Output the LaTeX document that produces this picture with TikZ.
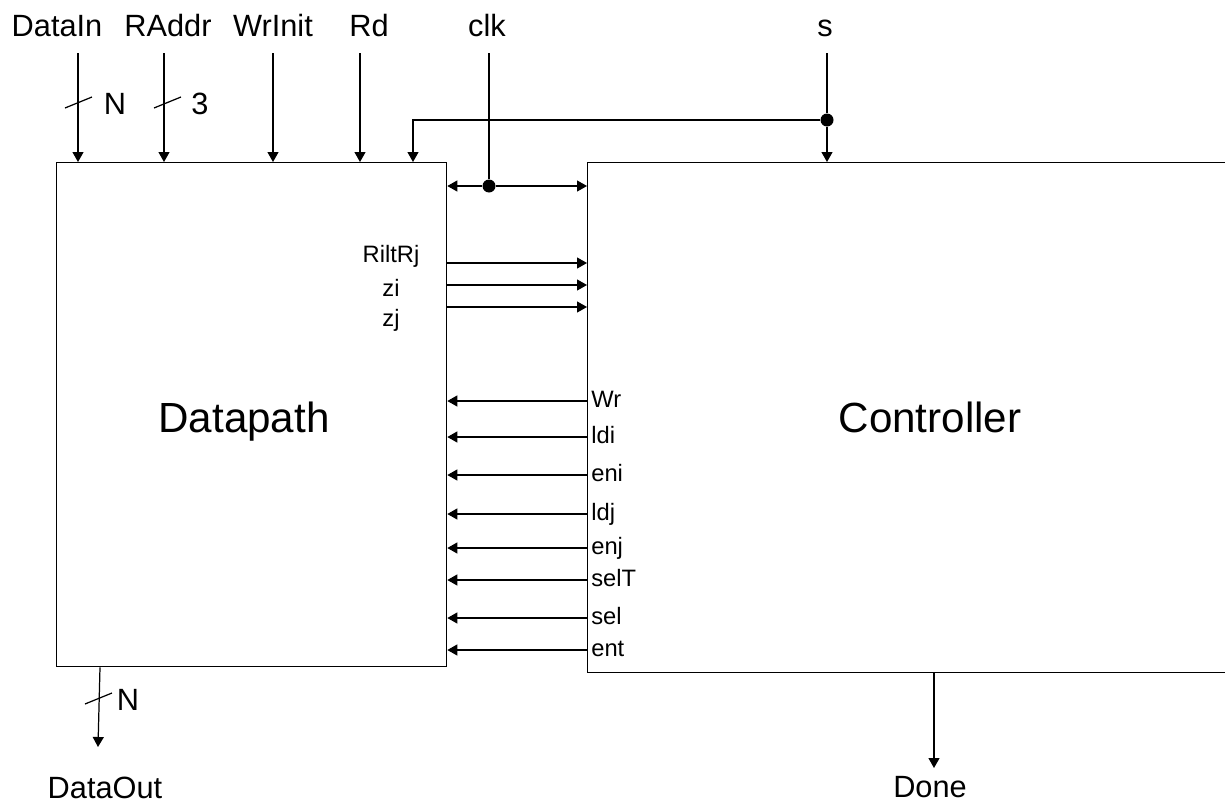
\documentclass[tikz,border=0pt]{standalone}
\usepackage{fontspec}
\setmainfont{Liberation Sans}
\usetikzlibrary{arrows.meta,positioning}

\begin{document}
\begin{tikzpicture}[x=0.02cm,y=-0.02cm,
    wire/.style={line width=0.7pt,-{Triangle[length=0.2cm,width=0.22cm]}},
    plain/.style={line width=0.7pt},
    blk/.style={draw,line width=0.8pt,inner sep=0pt,anchor=north west},
    pin/.style={font=\fontsize{17.5}{21}\selectfont,anchor=base},
    sigl/.style={font=\fontsize{13.5}{16}\selectfont,inner sep=0pt},
    big/.style={font=\fontsize{24}{28}\selectfont,anchor=base},
    dot/.style={circle,fill,inner sep=0pt,minimum size=0.26cm}]
  \useasboundingbox (0,0) rectangle (1225,805);
  \clip (0,0) rectangle (1225,805);

  % datapath block
  \node[blk,minimum width=7.8cm,minimum height=10.08cm] (dp) at (56,162) {};
  \node[big] (dplab) at (244,432) {Datapath};

  % controller block (runs off the right edge)
  \node[blk,minimum width=13.06cm,minimum height=10.2cm] (ctl) at (587,162) {};
  \node[big] (ctllab) at (930,432) {Controller};

  % top inputs
  \foreach \lx/\px/\lab in {57/78/DataIn,168/164/RAddr,273/273/WrInit,369/360/Rd}{
    \node[pin] (l\lab) at (\lx,36) {\lab};
    \coordinate (t\lab) at (\px,53);
    \draw[wire] (t\lab) -- (t\lab |- dp.north);
  }

  % bus widths
  \draw[plain] (65,108) -- (92,97);
  \node[pin,anchor=center] (wDataIn) at (115,104) {N};
  \draw[plain] (154,108) -- (181,97);
  \node[pin,anchor=center] (wRAddr) at (200,104) {3};

  % clock
  \node[pin] (lclk) at (487,36) {clk};
  \coordinate (tclk) at (489,53);
  \node[dot] (cj) at (489,186) {};
  \draw[plain] (tclk) -- (cj);
  \draw[wire] (cj) -- (cj -| dp.east);
  \draw[wire] (cj) -- (cj -| ctl.west);

  % start
  \node[pin] (ls) at (825,36) {s};
  \coordinate (ts) at (827,53);
  \node[dot] (sj) at (827,120) {};
  \coordinate (dps) at (413,162);
  \draw[plain] (ts) -- (sj);
  \draw[wire] (sj) -- (sj |- ctl.north);
  \draw[wire] (sj) -| (dps);

  % status to controller
  \foreach \y in {263,285,307}
    \draw[wire] (dp.east |- 0,\y) -- (ctl.west |- 0,\y);
  \node[sigl,anchor=base] (sRiltRj) at (391,262) {RiltRj};
  \node[sigl,anchor=base] (szi) at (391,296) {zi};
  \node[sigl,anchor=base] (szj) at (391,326) {zj};

  % control to datapath
  \foreach \y/\lab in {401/Wr,437/ldi,475/eni,514/ldj,548/enj,580/selT,618/sel,650/ent}{
    \draw[wire] (ctl.west |- 0,\y) -- (dp.east |- 0,\y);
    \node[sigl,anchor=base west] (c\lab) at (591,\y+6) {\lab};
  }

  % outputs
  \coordinate (tDataOut) at (98,747);
  \draw[wire] (dp.south -| 100,0) -- (tDataOut);
  \draw[plain] (85,704) -- (112,693);
  \node[pin,anchor=center] (wDataOut) at (128,700) {N};
  \node[pin] (lDataOut) at (105,798) {DataOut};

  \coordinate (tDone) at (934,768);
  \draw[wire] (ctl.south -| tDone) -- (tDone);
  \node[pin] (lDone) at (930,797) {Done};
\end{tikzpicture}
\end{document}
